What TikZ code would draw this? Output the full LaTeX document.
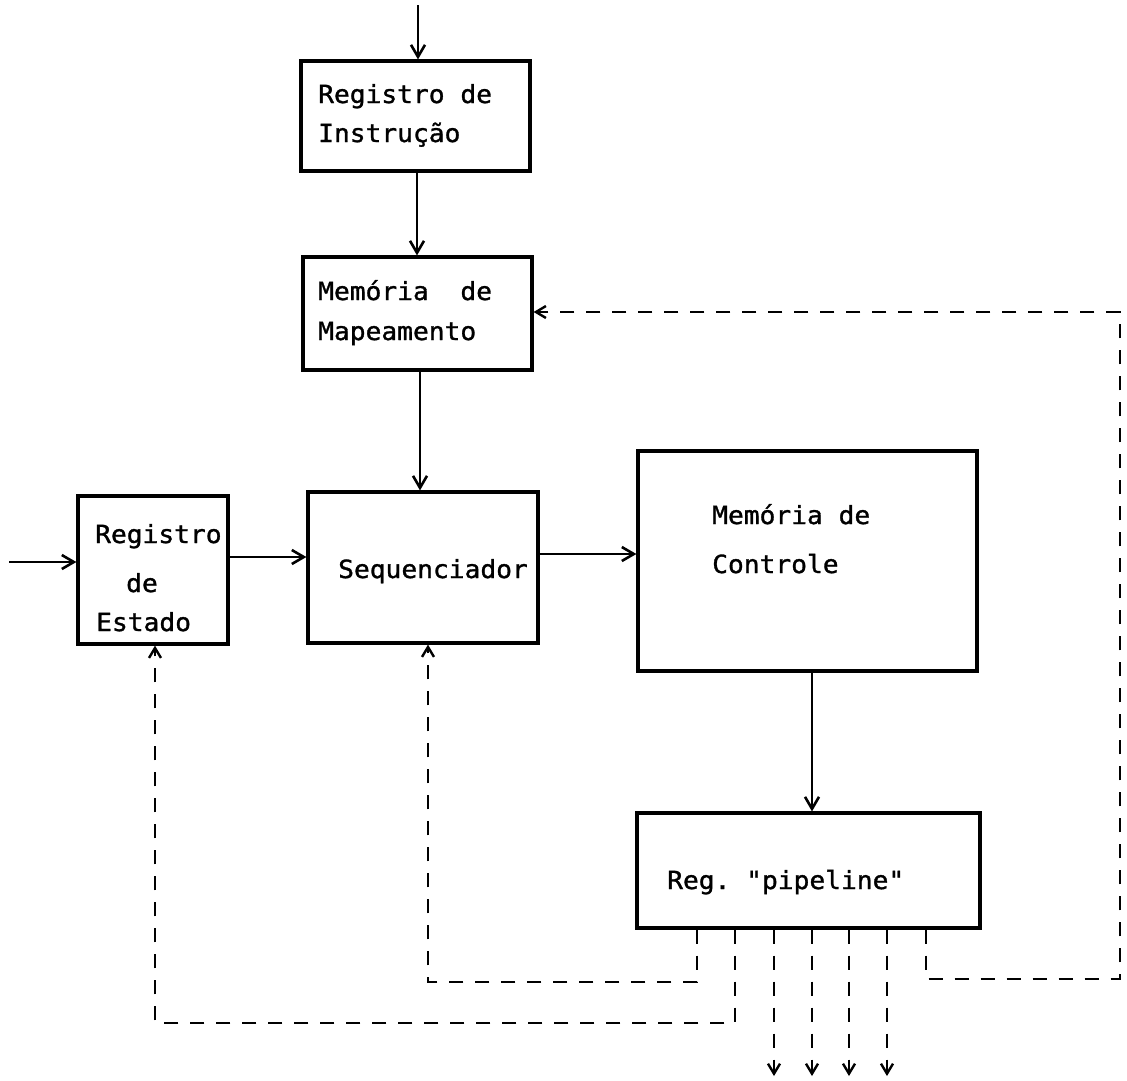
\documentclass[tikz,border=0pt]{standalone}
\usepackage{fontspec}
\setmonofont[FakeStretch=1.05,FakeBold=1.2]{DejaVu Sans Mono}
\usetikzlibrary{arrows.meta}
\begin{document}
\begin{tikzpicture}[x=1pt,y=-1pt,
  box/.style={draw, line width=3.2pt, inner sep=0pt},
  txt/.style={font=\ttfamily\fontsize{25}{29}\selectfont, anchor=base west, inner sep=0pt},
  conn/.style={line width=2.8pt, -{Straight Barb[length=12pt,width=14pt,line width=2.6pt]}},
  dconn/.style={line width=2.8pt, dash pattern=on 14pt off 12pt},
  dtip/.style={-{Straight Barb[length=10pt,width=12pt,line width=2.4pt]}}]
\useasboundingbox (0,0) rectangle (1127,1080);

% boxes
\node[box, minimum width=229pt, minimum height=110pt] (ri)  at (415.5,116) {};
\node[box, minimum width=229pt, minimum height=113pt] (mm)  at (417.5,313.5) {};
\node[box, minimum width=150pt, minimum height=148pt] (re)  at (153,570) {};
\node[box, minimum width=230pt, minimum height=151pt] (seq) at (423,567.5) {};
\node[box, minimum width=339pt, minimum height=220pt] (mc)  at (807.5,561) {};
\node[box, minimum width=343pt, minimum height=115pt] (pl)  at (808.5,870.5) {};

% texts
\node[txt] (t1) at (318,103) {Registro de};
\node[txt] (t2) at (318,142) {Instrução};
\node[txt] (t3) at (318,300) {Memória~~de};
\node[txt] (t4) at (318,340) {Mapeamento};
\node[txt] (t5) at (95,543) {Registro};
\node[txt] (t6) at (126,592) {de};
\node[txt] (t7) at (96,631) {Estado};
\node[txt] (t8) at (338,578) {Sequenciador};
\node[txt] (t9) at (712,524) {Memória de};
\node[txt] (t10) at (712,573) {Controle};
\node[txt] (t11) at (667,889) {Reg. "pipeline"};

% port coordinates
\coordinate (in1) at (418,5);
\coordinate (in2) at (9,562);
\coordinate (xri) at (417,0);
\coordinate (xmm) at (420,0);
\coordinate (yre) at (0,557);
\coordinate (yseq) at (0,554);
\coordinate (xmc) at (812,0);

% solid connectors
\draw[conn] (in1) -- (in1 |- ri.north);
\draw[conn] (ri.south -| xri) -- (mm.north -| xri);
\draw[conn] (mm.south -| xmm) -- (seq.north -| xmm);
\draw[conn] (in2) -- (in2 -| re.west);
\draw[conn] (re.east |- yre) -- (seq.west |- yre);
\draw[conn] (seq.east |- yseq) -- (mc.west |- yseq);
\draw[conn] (mc.south -| xmc) -- (pl.north -| xmc);

% dashed feedback
\coordinate (a1) at (697,982);
\coordinate (a2) at (428,982);
\draw[dconn, dtip] (pl.south -| a1) -- (a1) -- (a2) -- (a2 |- seq.south);
\coordinate (b1) at (735,1023);
\coordinate (b2) at (155,1023);
\draw[dconn, dtip] (pl.south -| b1) -- (b1) -- (b2) -- (b2 |- re.south);
\coordinate (c1) at (926,979);
\coordinate (c2) at (1120,979);
\coordinate (c3) at (1120,312);
\draw[dconn, dtip] (pl.south -| c1) -- (c1) -- (c2) -- (c3) -- (c3 -| mm.east);

% outputs
\coordinate (o1) at (774,1076);
\coordinate (o2) at (812,1076);
\coordinate (o3) at (849,1076);
\coordinate (o4) at (887,1076);
\draw[dconn, dtip] (pl.south -| o1) -- (o1);
\draw[dconn, dtip] (pl.south -| o2) -- (o2);
\draw[dconn, dtip] (pl.south -| o3) -- (o3);
\draw[dconn, dtip] (pl.south -| o4) -- (o4);
\end{tikzpicture}
\end{document}
